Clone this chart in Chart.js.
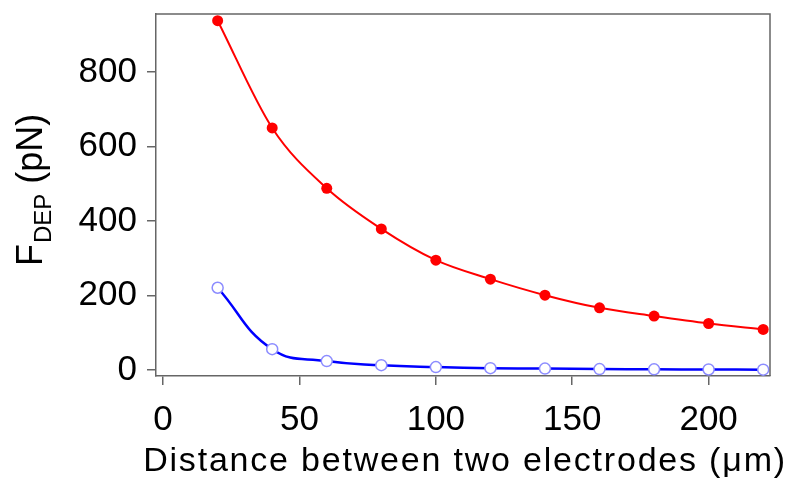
<!DOCTYPE html>
<html>
<head>
<meta charset="utf-8">
<script src="https://cdn.jsdelivr.net/npm/chart.js@4"></script>
<style>
  html, body { margin: 0; padding: 0; background: #fff; }
  #wrap { width: 800px; height: 494px; }
</style>
</head>
<body>
<div id="wrap"><canvas id="grafica" width="800" height="494"></canvas></div>
<script>
// distancia entre electrodos (um)
const distancias = [20, 40, 60, 80, 100, 120, 140, 160, 180, 200, 220];
// fuerza DEP (pN), serie roja y serie azul
const fuerzaRoja = [938, 650, 488, 379, 295, 244, 201, 167, 145, 125, 109];
const fuerzaAzul = [221, 56, 24, 13, 8, 5, 4, 2.5, 2, 1.5, 1];
const ticksX = [0, 50, 100, 150, 200];
const ticksY = [0, 200, 400, 600, 800];
const tituloX = 'Distance between two electrodes (μm)';

const fuente = "'Liberation Sans', Arial, sans-serif";
const colorEje = '#666666';

// marco superior/derecho, titulos de los ejes (el de Y con subindice)
const marcoTitulos = {
  id: 'marcoTitulos',
  afterDraw(chart) {
    const c = chart.ctx;
    const a = chart.chartArea;
    c.save();
    c.strokeStyle = colorEje;
    c.lineWidth = 1.5;
    c.beginPath();
    c.moveTo(a.left, a.top);
    c.lineTo(a.right, a.top);
    c.lineTo(a.right, a.bottom);
    c.stroke();

    // titulo eje X
    c.fillStyle = '#000';
    c.font = '34px ' + fuente;
    c.letterSpacing = '1.8px';
    c.textAlign = 'center';
    c.textBaseline = 'alphabetic';
    c.fillText(tituloX, (a.left + a.right) / 2 + 2, 471);
    c.letterSpacing = '0px';
    c.restore();

    // titulo eje Y
    c.save();
    c.translate(42, 266);
    c.rotate(-Math.PI / 2);
    c.fillStyle = '#000';
    c.textBaseline = 'alphabetic';
    c.textAlign = 'left';
    let x = 0;
    c.font = '36px ' + fuente;
    c.fillText('F', x, 0);
    x += c.measureText('F').width + 1;
    c.font = '24px ' + fuente;
    c.fillText('DEP', x, 9);
    x += c.measureText('DEP').width;
    c.font = '36px ' + fuente;
    c.fillText(' (pN)', x, 0);
    c.restore();
  }
};

const ctx = document.getElementById('grafica').getContext('2d');

const puntos = (ys) => distancias.map((d, i) => ({ x: d, y: ys[i] }));

new Chart(ctx, {
  type: 'line',
  data: {
    datasets: [{
      data: puntos(fuerzaRoja),
      borderColor: '#ff0000',
      backgroundColor: '#ff0000',
      borderWidth: 2,
      pointRadius: 5.5,
      pointBorderWidth: 0,
      pointBackgroundColor: '#ff0000',
      cubicInterpolationMode: 'monotone',
      fill: false
    }, {
      data: puntos(fuerzaAzul),
      borderColor: '#0000ff',
      borderWidth: 2.5,
      pointRadius: 5.5,
      pointBorderWidth: 1.5,
      pointBorderColor: '#8c8cff',
      pointBackgroundColor: '#ffffff',
      tension: 0.45,
      fill: false
    }]
  },
  options: {
    animation: false,
    responsive: false,
    events: [],
    layout: { padding: { top: 14, right: 30, left: 0, bottom: 0 } },
    plugins: { legend: { display: false }, tooltip: { enabled: false } },
    scales: {
      x: {
        type: 'linear',
        min: -2.6,
        max: 222.5,
        afterBuildTicks: (s) => { s.ticks = ticksX.map(v => ({ value: v })); },
        afterFit: (s) => { s.height = 118; s.paddingLeft = 0; s.paddingRight = 0; },
        grid: { display: true, drawOnChartArea: false, drawTicks: true, tickLength: 9, color: colorEje, lineWidth: 1.5 },
        border: { display: true, color: colorEje, width: 1.5 },
        ticks: { color: '#000', font: { family: fuente, size: 35 }, padding: 14, maxRotation: 0 }
      },
      y: {
        type: 'linear',
        min: -16,
        max: 956,
        afterBuildTicks: (s) => { s.ticks = ticksY.map(v => ({ value: v })); },
        afterFit: (s) => { s.width = 156; s.paddingTop = 0; s.paddingBottom = 0; },
        grid: { display: true, drawOnChartArea: false, drawTicks: true, tickLength: 9, color: colorEje, lineWidth: 1.5 },
        border: { display: true, color: colorEje, width: 1.5 },
        ticks: { color: '#000', font: { family: fuente, size: 35 }, padding: 10 }
      }
    }
  },
  plugins: [marcoTitulos]
});
</script>
</body>
</html>
